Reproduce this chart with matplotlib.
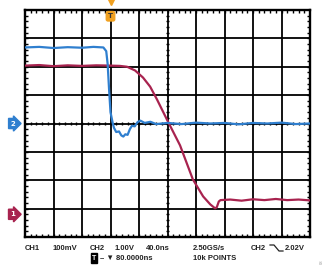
import matplotlib
matplotlib.use("Agg")
import matplotlib.pyplot as plt
import numpy as np
from matplotlib.collections import LineCollection

# scope traces, x in divisions (40 ns/div), y in divisions
ch2_t = [0.0, 0.5, 1.0, 1.5, 2.0, 2.4, 2.75, 2.85, 2.9, 2.95, 3.0, 3.07, 3.12, 3.2,
         3.3, 3.38, 3.45, 3.52, 3.6, 3.68, 3.75, 3.85, 3.95, 4.05, 4.2, 4.4, 4.6,
         5.0, 5.5, 6.0, 6.5, 7.0, 7.5, 8.0, 8.5, 9.0, 9.5, 10.0]
ch2_v = [2.68, 2.70, 2.66, 2.69, 2.67, 2.70, 2.68, 2.55, 2.1, 1.2, 0.4, 0.05, -0.15, -0.3,
         -0.28, -0.42, -0.46, -0.38, -0.40, -0.20, -0.08, -0.10, 0.05, 0.10, 0.02, 0.06, -0.02,
         0.02, -0.02, 0.03, 0.0, 0.02, -0.03, 0.02, 0.0, 0.03, -0.02, 0.0]

ch1_t = [0.0, 0.5, 1.0, 1.5, 2.0, 2.5, 3.0, 3.33, 3.58, 3.86, 4.14, 4.39, 4.63, 4.98,
         5.44, 5.89, 6.25, 6.5, 6.67, 6.73, 6.8, 6.86, 7.2, 7.6, 8.0, 8.4, 8.8, 9.2, 9.6, 10.0]
ch1_v = [2.04, 2.06, 2.02, 2.05, 2.03, 2.05, 2.04, 2.03, 2.0, 1.87, 1.62, 1.30, 0.85, 0.14,
         -0.77, -1.97, -2.57, -2.85, -2.99, -2.95, -2.75, -2.70, -2.68, -2.72, -2.67, -2.70,
         -2.66, -2.70, -2.68, -2.71]

W, H = 331, 274
fig = plt.figure(figsize=(W / 100, H / 100), dpi=100)
ax = fig.add_axes([25 / W, 1 - 237 / H, 285 / W, 227 / H])
ax.set_xlim(0, 10)
ax.set_ylim(-4, 4)
ax.set_xticks([])
ax.set_yticks([])
for s in ax.spines.values():
    s.set_linewidth(1.7)
    s.set_color('black')

# graticule
for i in range(1, 10):
    ax.axvline(i, color='black', lw=1.3, zorder=1)
for j in range(-3, 4):
    ax.axhline(j, color='black', lw=1.3, zorder=1)

segs = []
for k in range(1, 50):
    x = k * 0.2
    segs += [[(x, 4), (x, 3.88)], [(x, -4), (x, -3.88)], [(x, -0.07), (x, 0.07)]]
for k in range(1, 40):
    y = -4 + k * 0.2
    segs += [[(0, y), (0.11, y)], [(10, y), (9.89, y)], [(4.93, y), (5.07, y)]]
ax.add_collection(LineCollection(segs, colors='black', linewidths=1.0, zorder=1))

ax.plot(ch1_t, ch1_v, color='#a8234f', lw=1.6, zorder=3)
ax.plot(ch2_t, ch2_v, color='#2f7fcf', lw=1.6, zorder=4)

# channel markers
ax.text(-0.42, 0, '2', transform=ax.transData, ha='center', va='center', color='white',
        fontsize=5, fontweight='bold', clip_on=False,
        bbox=dict(boxstyle='rarrow,pad=0.3', fc='#2f7fcf', ec='#2f7fcf'))
ax.text(-0.42, -3.2, '1', transform=ax.transData, ha='center', va='center', color='white',
        fontsize=5, fontweight='bold', clip_on=False,
        bbox=dict(boxstyle='rarrow,pad=0.3', fc='#a8234f', ec='#a8234f'))

# trigger marker
ax.plot([3.0], [4.28], marker='v', color='#f0a020', ms=5, clip_on=False, zorder=5)
ax.text(3.0, 3.78, 'T', ha='center', va='center', color='#333333', fontsize=5,
        fontweight='bold', clip_on=False, zorder=5,
        bbox=dict(boxstyle='round,pad=0.25', fc='#f0a020', ec='#f0a020'))


def ftxt(x, y, s, **kw):
    kw.setdefault('fontsize', 5.5)
    kw.setdefault('color', '#222222')
    kw.setdefault('fontweight', 'bold')
    kw.setdefault('family', 'Liberation Sans')
    fig.text(x / W, 1 - y / H, s, va='center', **kw)


ftxt(25, 248, 'CH1')
ftxt(53, 248, '100mV')
ftxt(90, 248, 'CH2')
ftxt(115, 248, '1.00V')
ftxt(146, 248, '40.0ns')
ftxt(193, 248, '2.50GS/s')
ftxt(251, 248, 'CH2')
ftxt(285, 248, '2.02V')
ftxt(193, 258, '10k POINTS')
ftxt(92, 258, 'T', color='white', fontsize=5,
     bbox=dict(boxstyle='square,pad=0.15', fc='black', ec='black'))
ftxt(100, 258, '\u2013 \u25bc 80.0000ns')
ftxt(320, 262, '08', fontsize=3, color='#999999', rotation=90, fontweight='normal')

# falling-edge symbol
fig.add_artist(plt.Line2D(np.array([270, 274, 279, 283]) / W,
                          1 - np.array([245, 245, 251, 251]) / H,
                          color='#222222', lw=0.9))

fig.savefig('out.png', dpi=100)
